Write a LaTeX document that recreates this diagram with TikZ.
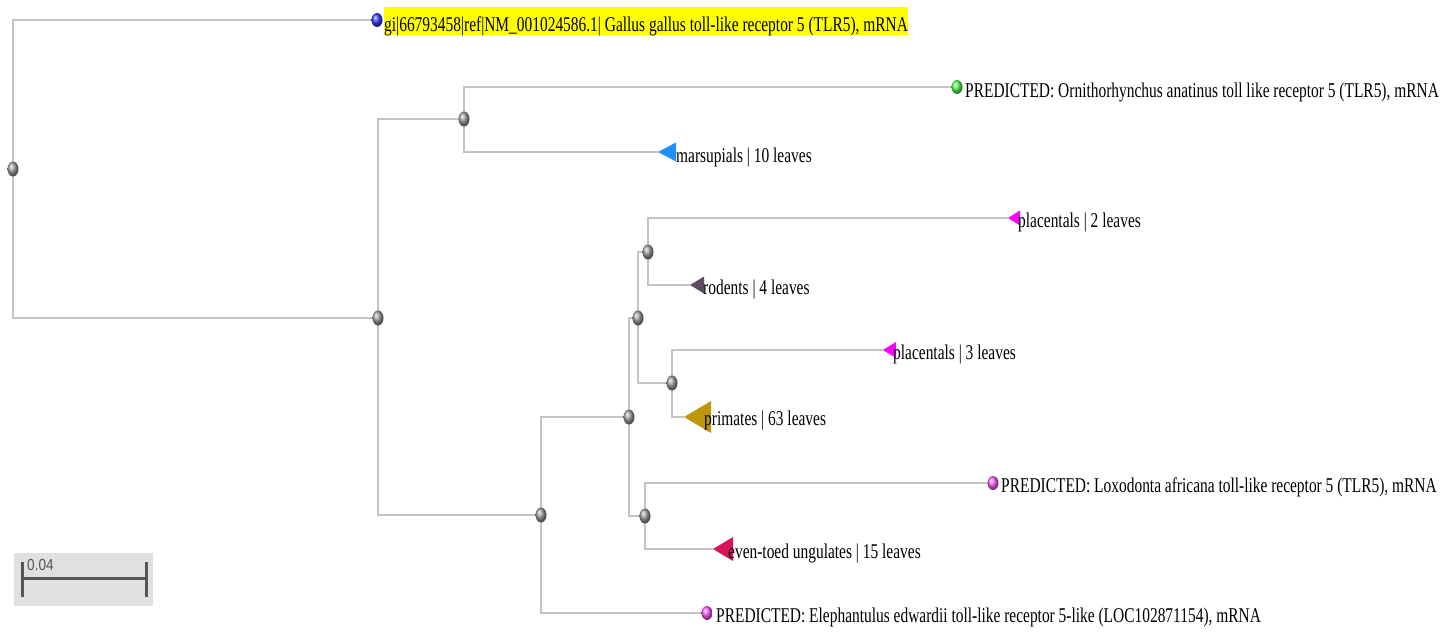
\documentclass[tikz,border=0pt]{standalone}
\usepackage{fontspec}
\usetikzlibrary{shapes.geometric}
\setmainfont{Liberation Serif}
\newfontfamily\lblfont[FakeStretch=0.735]{Liberation Serif}
\newfontfamily\barfont[FakeStretch=0.85]{Liberation Sans}
\definecolor{brgray}{RGB}{196,196,196}
\definecolor{cmars}{RGB}{30,144,255}
\definecolor{cplac}{RGB}{255,0,255}
\definecolor{crod}{RGB}{90,75,95}
\definecolor{cprim}{RGB}{190,150,10}
\definecolor{ceven}{RGB}{215,20,90}
\definecolor{bblue}{RGB}{60,60,255}
\definecolor{bgreen}{RGB}{90,255,90}
\definecolor{bmag}{RGB}{255,90,255}
\definecolor{scalebg}{RGB}{224,224,224}
\definecolor{barc}{RGB}{85,85,85}
\definecolor{hl}{RGB}{255,255,0}
\begin{document}
\begin{tikzpicture}[x=1pt,y=-1pt,
  branch/.style={draw=brgray, line width=1.3pt},
  innernode/.style={ellipse, inner sep=0pt, minimum width=11pt, minimum height=15pt, ball color=gray!75},
  leafball/.style={ellipse, inner sep=0pt, minimum width=11pt, minimum height=14pt, ball color=#1},
  lbl/.style={anchor=base west, inner sep=0pt, font=\lblfont\fontsize{21}{24}\selectfont}]
\useasboundingbox (0,0) rectangle (1443,632);
% internal coordinates
\coordinate (r) at (13,169);
\coordinate (a) at (378,318);
\coordinate (b) at (464,119);
\coordinate (c) at (541,515);
\coordinate (d) at (629,417);
\coordinate (e) at (638,318);
\coordinate (g) at (648,252);
\coordinate (f) at (672,383);
\coordinate (h) at (645,516);
% leaf tips
\coordinate (l1) at (377,20);
\coordinate (l2) at (957,87);
\coordinate (l3) at (658,152);
\coordinate (l4) at (1008,218);
\coordinate (l5) at (690,285);
\coordinate (l6) at (883,350);
\coordinate (l7) at (684,417);
\coordinate (l8) at (993,483);
\coordinate (l9) at (713,549);
\coordinate (l10) at (707,613);
% branches
\draw[branch] (r) |- (l1);
\draw[branch] (r) |- (a);
\draw[branch] (a) |- (b);
\draw[branch] (a) |- (c);
\draw[branch] (b) |- (l2);
\draw[branch] (b) |- (l3);
\draw[branch] (c) |- (d);
\draw[branch] (c) |- (l10);
\draw[branch] (d) |- (e);
\draw[branch] (d) |- (h);
\draw[branch] (e) |- (g);
\draw[branch] (e) |- (f);
\draw[branch] (g) |- (l4);
\draw[branch] (g) |- (l5);
\draw[branch] (f) |- (l6);
\draw[branch] (f) |- (l7);
\draw[branch] (h) |- (l8);
\draw[branch] (h) |- (l9);
% internal nodes
\foreach \n in {r,a,b,c,d,e,g,f,h} \node[innernode] (n\n) at (\n) {};
% labels
\node[lbl, fill=hl, text height=24pt, text depth=4pt] (t1) at (384,31) {gi|66793458|ref|NM\_001024586.1| Gallus gallus toll-like receptor 5 (TLR5), mRNA};
\node[lbl] (t2) at (965,97) {PREDICTED: Ornithorhynchus anatinus toll like receptor 5 (TLR5), mRNA};
\node[lbl] (t8) at (1001,492) {PREDICTED: Loxodonta africana toll-like receptor 5 (TLR5), mRNA};
\node[lbl] (t10) at (716,622) {PREDICTED: Elephantulus edwardii toll-like receptor 5-like (LOC102871154), mRNA};
% leaf balls
\node[leafball=bblue] (b1) at (l1) {};
\node[leafball=bgreen] (b2) at (l2) {};
\node[leafball=bmag] (b8) at (l8) {};
\node[leafball=bmag] (b10) at (l10) {};
% collapsed clades
\fill[cmars] (l3) -- ++(18,-9.5) -- ++(0,19) -- cycle;
\fill[cplac] (l4) -- ++(12,-7.5) -- ++(0,15) -- cycle;
\fill[crod] (l5) -- ++(14,-8.5) -- ++(0,17) -- cycle;
\fill[cplac] (l6) -- ++(13,-8) -- ++(0,16) -- cycle;
\fill[cprim] (l7) -- ++(27,-16) -- ++(0,32) -- cycle;
\fill[ceven] (l9) -- ++(20,-12) -- ++(0,24) -- cycle;
\node[lbl] (t3) at (676,162) {marsupials | 10 leaves};
\node[lbl] (t4) at (1018,227) {placentals | 2 leaves};
\node[lbl] (t5) at (703,294) {rodents | 4 leaves};
\node[lbl] (t6) at (893,359) {placentals | 3 leaves};
\node[lbl] (t7) at (704,425) {primates | 63 leaves};
\node[lbl] (t9) at (728,558) {even-toed ungulates | 15 leaves};
% scale bar
\fill[scalebg] (14,553) rectangle (153,606);
\draw[barc, line width=3pt] (22,578) -- (146,578);
\draw[barc, line width=3pt] (22,562) -- (22,597);
\draw[barc, line width=3pt] (146,562) -- (146,597);
\node[anchor=base west, inner sep=0pt, text=barc, font=\barfont\fontsize{16}{18}\selectfont] (sb) at (27,570) {0.04};
\end{tikzpicture}
\end{document}
